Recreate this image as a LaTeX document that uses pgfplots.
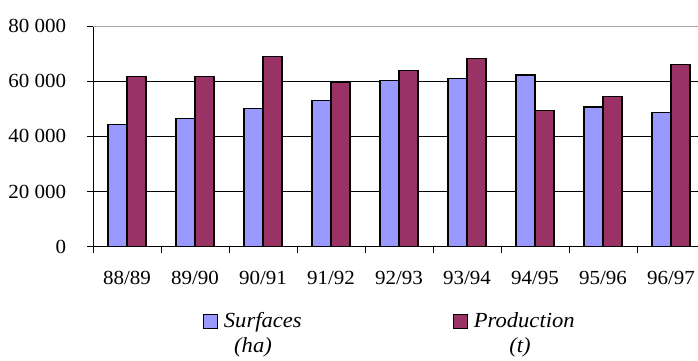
\documentclass[border=0pt]{standalone}
\usepackage{fontspec}
\setmainfont[FakeStretch=1.05]{Liberation Serif}
\usepackage{pgfplots}
\pgfplotsset{compat=1.18}
\definecolor{surf}{RGB}{153,153,255}
\definecolor{prod}{RGB}{153,51,102}

\begin{document}
\fontsize{20}{24}\selectfont
\begin{tikzpicture}[x=1pt,y=1pt]
% page frame: the axis box starts at (0,0); the right edge of the chart runs past the page
\path[use as bounding box] (-93,-114.3) rectangle (605,246.7);
\clip (-93,-114.3) rectangle (605,246.7);
\begin{axis}[
  anchor=origin,
  scale only axis, width=612pt, height=220.7pt,
  xmin=0, xmax=9, ymin=0, ymax=80000,
  axis x line*=bottom, axis y line*=left,
  axis line style={black, line width=0.8pt},
  ybar, bar width=19pt,
  xtick={0.5,1.5,...,8.5},
  xticklabels={88/89,89/90,90/91,91/92,92/93,93/94,94/95,95/96,96/97},
  major x tick style={draw=none},
  minor xtick={0,1,...,9},
  ytick={0,20000,40000,60000,80000},
  tick align=outside,
  major tick length=6pt, minor tick length=6pt,
  tick style={black, line width=0.8pt},
  ymajorgrids, grid style={black, line width=0.8pt},
  scaled ticks=false,
  /pgf/number format/assume math mode=true,
  /pgf/number format/1000 sep={\ },
  yticklabel style={xshift=-14pt},
  xticklabel style={yshift=-12pt},
  legend columns=2,
  legend style={draw=none, fill=none, inner sep=0pt,
    at={(0.179,-0.340)}, anchor=west,
    font=\fontsize{21.5}{25}\selectfont\itshape,
    /tikz/every odd column/.append style={column sep=4pt},
    /tikz/every even column/.append style={column sep=149pt}},
  legend image code/.code={\draw[#1,draw=black,line width=1.2pt] (0pt,-7pt) rectangle (14pt,7pt);},
]
\addplot[fill=surf, draw=black, line width=1.4pt, bar shift=-9.5pt] coordinates {
  (0.5,44200) (1.5,46500) (2.5,50100) (3.5,53000) (4.5,60300)
  (5.5,60900) (6.5,62300) (7.5,50700) (8.5,48600)};
\addplot[fill=prod, draw=black, line width=1.4pt, bar shift=9.5pt] coordinates {
  (0.5,61700) (1.5,61600) (2.5,69000) (3.5,59600) (4.5,63800)
  (5.5,68200) (6.5,49400) (7.5,54500) (8.5,66000)};
\legend{Surfaces, Production}
\draw[gray!70, line width=1pt] (rel axis cs:0,1) -- (rel axis cs:1,1);
\end{axis}
\node[font=\fontsize{21.5}{25}\selectfont\itshape] at (160,-101) {(ha)};
\node[font=\fontsize{21.5}{25}\selectfont\itshape] at (427,-101) {(t)};
\end{tikzpicture}
\end{document}
